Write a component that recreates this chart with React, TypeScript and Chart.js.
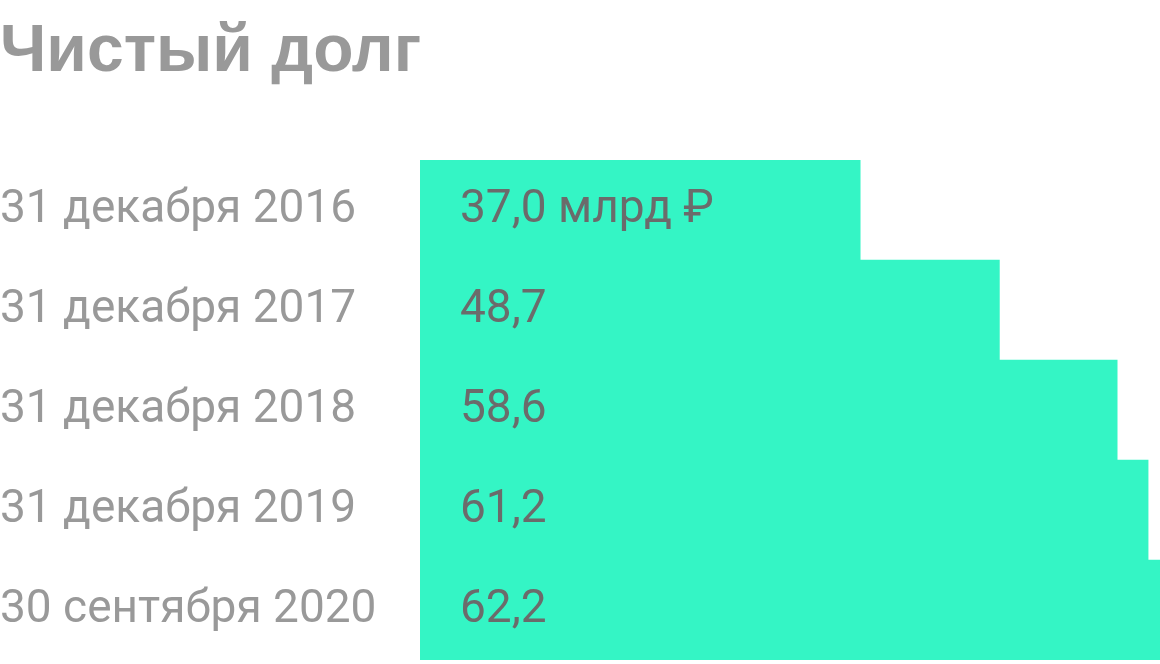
import { useEffect, useRef } from "react";
import { Chart } from "chart.js/auto";

const dates = [
  "31 декабря 2016",
  "31 декабря 2017",
  "31 декабря 2018",
  "31 декабря 2019",
  "30 сентября 2020",
];
const netDebt = [37.0, 48.7, 58.6, 61.2, 62.2];
const unit = " млрд ₽";

const fmt = (v: number) => v.toFixed(1).replace(".", ",");

// подписи значений внутри столбцов
const valueLabels = {
  id: "valueLabels",
  afterDatasetsDraw(chart: Chart) {
    const { ctx } = chart;
    const meta = chart.getDatasetMeta(0);
    ctx.save();
    ctx.font = "46px Roboto";
    ctx.fillStyle = "#6b6b6b";
    ctx.textBaseline = "middle";
    ctx.textAlign = "left";
    meta.data.forEach((bar: any, i) => {
      const text = fmt(netDebt[i]) + (i === 0 ? unit : "");
      ctx.fillText(text, bar.base + 40, bar.y);
    });
    ctx.restore();
  },
};

export default function App() {
  const chartRef = useRef<HTMLCanvasElement>(null);
  const chartInstance = useRef<Chart | null>(null);

  useEffect(() => {
    if (!chartRef.current) return;
    const ctx = chartRef.current.getContext("2d");
    if (!ctx) return;

    chartInstance.current = new Chart(ctx, {
      type: "bar",
      data: {
        labels: dates,
        datasets: [
          {
            data: netDebt,
            backgroundColor: "#34f5c5",
            borderWidth: 0,
            categoryPercentage: 1,
            barPercentage: 1,
          },
        ],
      },
      options: {
        indexAxis: "y",
        responsive: true,
        maintainAspectRatio: false,
        animation: false,
        layout: { padding: { left: 0, right: 0, top: 0, bottom: 4 } },
        plugins: {
          legend: { display: false },
          tooltip: { enabled: false },
          title: {
            display: true,
            text: "Чистый долг",
            align: "start",
            color: "#999999",
            font: { family: "'Liberation Sans', Arial", size: 66, weight: "bold", lineHeight: 1.2 },
            padding: { top: 13, bottom: 67.8 },
          },
        },
        scales: {
          x: {
            display: false,
            min: 0,
            max: 62.2,
          },
          y: {
            afterFit: (scale: any) => {
              scale.width = 420;
              scale.paddingTop = 0;
              scale.paddingBottom = 0;
            },
            grid: { display: false },
            border: { display: false },
            ticks: {
              crossAlign: "far",
              padding: 0,
              color: "#999999",
              font: { family: "Roboto", size: 46 },
            },
          },
        },
      },
      plugins: [valueLabels],
    });

    return () => chartInstance.current?.destroy();
  }, []);

  return (
    <div style={{ position: "absolute", left: 0, top: 0, width: 1160, height: 664 }}>
      <canvas ref={chartRef} />
    </div>
  );
}
